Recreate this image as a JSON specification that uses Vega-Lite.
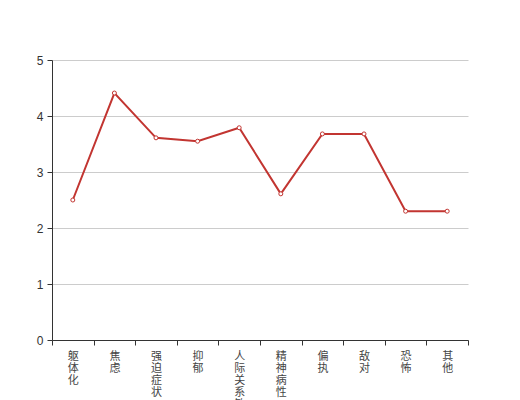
{
  "$schema": "https://vega.github.io/schema/vega-lite/v6.json",
  "width": 416,
  "height": 280,
  "autosize": {"type": "none"},
  "padding": {"left": 52, "top": 60, "right": 52, "bottom": 60},
  "background": "white",
  "config": {"view": {"stroke": null}, "font": "Noto Sans CJK SC"},
  "data": {"values": [
    {"factor": "躯体化", "score": 2.5},
    {"factor": "焦虑", "score": 4.41},
    {"factor": "强迫症状", "score": 3.61},
    {"factor": "抑郁", "score": 3.55},
    {"factor": "人际关系敏感", "score": 3.79},
    {"factor": "精神病性", "score": 2.61},
    {"factor": "偏执", "score": 3.68},
    {"factor": "敌对", "score": 3.68},
    {"factor": "恐怖", "score": 2.3},
    {"factor": "其他", "score": 2.3}
  ]},
  "encoding": {
    "x": {"field": "factor", "type": "nominal", "sort": null, "bandPosition": 0.5,
      "scale": {"type": "band", "paddingInner": 0, "paddingOuter": 0},
      "axis": {"title": null, "labelAngle": 0, "labelAlign": "center", "labelBaseline": "top",
        "labelExpr": "split(datum.label, '')", "labelLineHeight": 12, "labelFontSize": 11,
        "labelColor": "#444", "labelPadding": 5, "tickBand": "extent", "tickSize": 5,
        "tickColor": "#333", "domainColor": "#333", "labelFont": "Noto Sans CJK SC", "grid": false}},
    "y": {"field": "score", "type": "quantitative",
      "scale": {"domain": [0, 5], "nice": false, "zero": true},
      "axis": {"title": null, "values": [0, 1, 2, 3, 4, 5], "tickSize": 5, "tickColor": "#333",
        "domainColor": "#333", "gridColor": "#ccc", "labelColor": "#333", "labelFontSize": 12,
        "labelPadding": 4, "labelFont": "sans-serif"}}
  },
  "layer": [
    {"mark": {"type": "line", "color": "#c23531", "strokeWidth": 2}},
    {"mark": {"type": "point", "shape": "circle", "filled": true, "fill": "white", "stroke": "#c23531", "strokeWidth": 1, "size": 16, "opacity": 1}}
  ]
}
